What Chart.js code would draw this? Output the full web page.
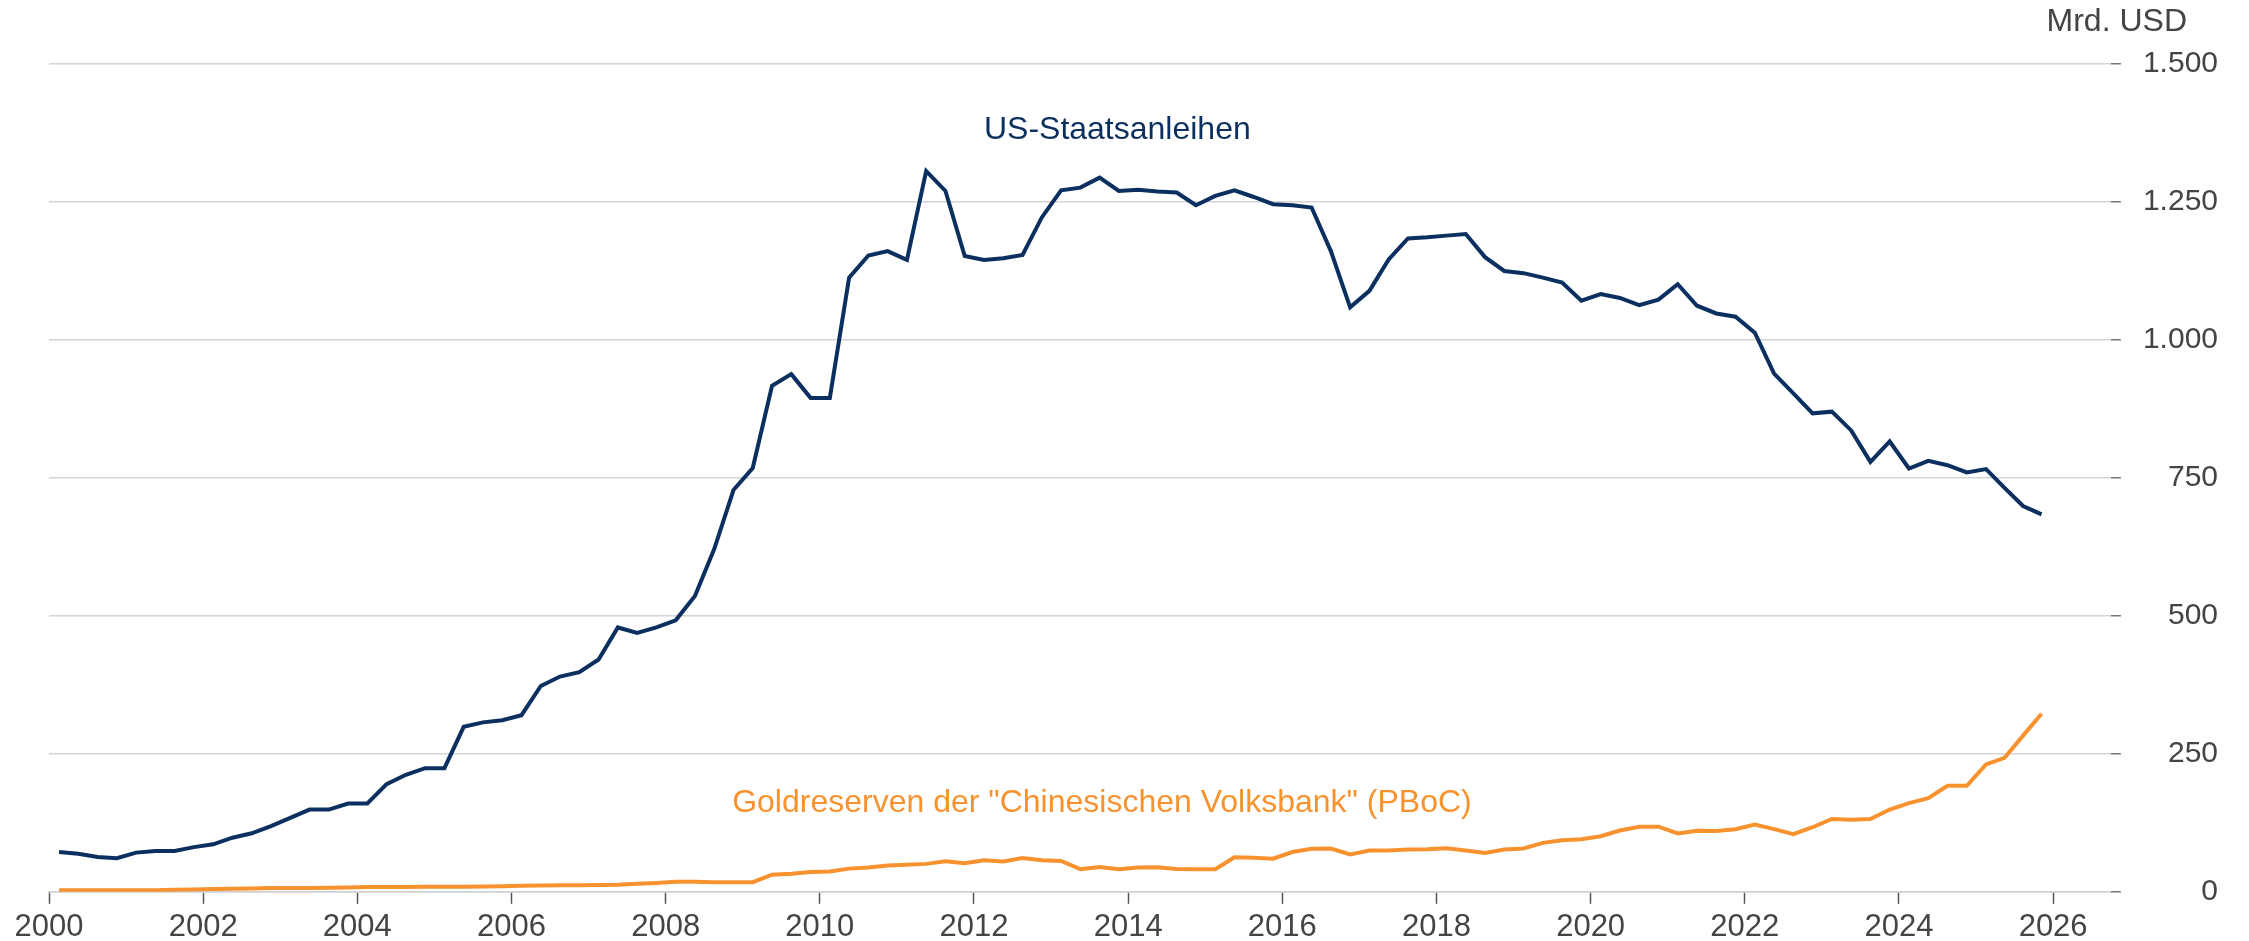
<!DOCTYPE html>
<html lang="de">
<head>
<meta charset="utf-8">
<title>US-Staatsanleihen vs. Goldreserven PBoC</title>
<script src="https://cdn.jsdelivr.net/npm/chart.js@4.4.1/dist/chart.umd.min.js"></script>
<style>
  html, body { margin: 0; padding: 0; background: #fff; }
  #wrap { width: 2249px; height: 941px; position: relative; }
</style>
</head>
<body>
<div id="wrap"><canvas id="chart"></canvas></div>
<script>
// quarterly observation dates as decimal years
const dates = [
  2000.13, 2000.38, 2000.63, 2000.88, 2001.13, 2001.38, 2001.63, 2001.88,
  2002.13, 2002.38, 2002.63, 2002.88, 2003.13, 2003.38, 2003.63, 2003.88,
  2004.13, 2004.38, 2004.63, 2004.88, 2005.13, 2005.38, 2005.63, 2005.88,
  2006.13, 2006.38, 2006.63, 2006.88, 2007.13, 2007.38, 2007.63, 2007.88,
  2008.13, 2008.38, 2008.63, 2008.88, 2009.13, 2009.38, 2009.63, 2009.88,
  2010.13, 2010.38, 2010.63, 2010.88, 2011.13, 2011.38, 2011.63, 2011.88,
  2012.13, 2012.38, 2012.63, 2012.88, 2013.13, 2013.38, 2013.63, 2013.88,
  2014.13, 2014.38, 2014.63, 2014.88, 2015.13, 2015.38, 2015.63, 2015.88,
  2016.13, 2016.38, 2016.63, 2016.88, 2017.13, 2017.38, 2017.63, 2017.88,
  2018.13, 2018.38, 2018.63, 2018.88, 2019.13, 2019.38, 2019.63, 2019.88,
  2020.13, 2020.38, 2020.63, 2020.88, 2021.13, 2021.38, 2021.63, 2021.88,
  2022.13, 2022.38, 2022.63, 2022.88, 2023.13, 2023.38, 2023.63, 2023.88,
  2024.13, 2024.38, 2024.63, 2024.88, 2025.13, 2025.37, 2025.61, 2025.85
];

// China's holdings of US Treasuries, bn USD
const usTreasuries = [
  72, 69, 63, 61, 71, 74, 74, 81,
  86, 98, 106, 119, 134, 149, 149, 160,
  160, 195, 212, 224, 224, 299, 307, 311,
  320, 373, 390, 398, 421, 479, 469, 479,
  492, 536, 621, 728, 768, 917, 938, 895,
  895, 1113, 1153, 1161, 1145, 1306, 1270, 1152,
  1145, 1148, 1154, 1222, 1271, 1276, 1294, 1270,
  1272, 1269, 1267, 1244, 1261, 1271, 1259, 1246,
  1244, 1240, 1161, 1059, 1089, 1146, 1184, 1186,
  1189, 1192, 1150, 1125, 1121, 1113, 1104, 1071,
  1083, 1076, 1063, 1073, 1101, 1062, 1048, 1042,
  1013, 939, 903, 867, 870, 836, 779, 816,
  767, 781, 773, 760, 766, 732, 699, 684
];

// PBoC gold reserves, bn USD
const pbocGold = [
  3, 3, 3, 3, 3, 3, 3.5, 4,
  5, 5.5, 6, 7, 7, 7, 7.5, 8,
  8.5, 8.5, 8.5, 9, 9, 9, 9.5, 10,
  11, 11.5, 12, 12, 12.5, 13, 14.5, 16,
  18, 18, 17.5, 17.5, 17.5, 31, 32.5, 36,
  37, 42, 44, 47.6, 48.8, 50.6, 55.5, 51.8,
  57, 55, 61, 57, 56, 41, 45, 41,
  44, 44.5, 41.5, 41, 41, 62.7, 61.5, 60,
  72, 77.8, 78.4, 67.6, 74.8, 74.8, 76.6, 77,
  79, 75, 70.5, 76.6, 78.4, 88.7, 93.5, 95.4,
  100.8, 111, 118, 118, 105.7, 110.4, 110, 113.5,
  122, 113.5, 104.4, 117, 132, 130.4, 132, 149,
  160.6, 169.7, 192, 192, 230.7, 242.8, 283, 322.5
];

const seriesNames = ['US-Staatsanleihen', 'Goldreserven der "Chinesischen Volksbank" (PBoC)'];
const unitLabel = 'Mrd. USD';

const NAVY = '#0b2f5f';
const ORANGE = '#f7922f';
const FONT = '"Liberation Sans", Arial, sans-serif';

function fmtDE(v) {
  return String(Math.round(v)).replace(/\B(?=(\d{3})+(?!\d))/g, '.');
}

// series labels + unit text
const textPlugin = {
  id: 'texts',
  afterDraw(chart) {
    const ctx = chart.ctx;
    const xs = chart.scales.x, ys = chart.scales.y;
    ctx.save();
    ctx.textBaseline = 'middle';
    ctx.font = '32px ' + FONT;
    ctx.textAlign = 'center';
    ctx.fillStyle = NAVY;
    ctx.fillText(seriesNames[0], xs.getPixelForValue(2013.86), ys.getPixelForValue(1380));
    ctx.fillStyle = ORANGE;
    ctx.fillText(seriesNames[1], xs.getPixelForValue(2013.66), ys.getPixelForValue(161));
    ctx.font = '32px ' + FONT;
    ctx.textAlign = 'right';
    ctx.fillStyle = '#444';
    ctx.fillText(unitLabel, chart.width - 62, 22);
    ctx.restore();
  }
};

const ctx = document.getElementById('chart').getContext('2d');
new Chart(ctx, {
  type: 'line',
  data: {
    datasets: [
      {
        label: seriesNames[0],
        data: dates.map((d, i) => ({ x: d, y: usTreasuries[i] })),
        borderColor: NAVY,
        borderWidth: 4,
        pointRadius: 0,
        tension: 0,
        fill: false
      },
      {
        label: seriesNames[1],
        data: dates.map((d, i) => ({ x: d, y: pbocGold[i] })),
        borderColor: ORANGE,
        borderWidth: 4,
        pointRadius: 0,
        tension: 0,
        fill: false
      }
    ]
  },
  options: {
    responsive: true,
    maintainAspectRatio: false,
    animation: false,
    layout: { padding: { top: 64, right: 31, left: 49, bottom: -10 } },
    plugins: {
      legend: { display: false },
      tooltip: { enabled: false }
    },
    scales: {
      x: {
        type: 'linear',
        min: 2000,
        max: 2026.75,
        grid: {
          drawOnChartArea: false,
          drawTicks: true,
          tickLength: 12,
          tickColor: '#555',
          tickWidth: 1.5
        },
        border: { display: true, color: '#d0d0d0', width: 1.5 },
        ticks: {
          stepSize: 2,
          includeBounds: false,
          autoSkip: false,
          maxRotation: 0,
          padding: 5,
          color: '#444',
          font: { family: FONT, size: 31 },
          callback: v => String(v)
        },
        afterBuildTicks: s => { s.ticks = s.ticks.filter(t => Number.isInteger(t.value)); }
      },
      y: {
        position: 'right',
        min: 0,
        max: 1500,
        grid: {
          color: '#d4d4d4',
          lineWidth: 1.5,
          tickLength: 10,
          tickColor: '#777'
        },
        border: { display: false },
        ticks: {
          stepSize: 250,
          padding: 11,
          crossAlign: 'far',
          color: '#444',
          font: { family: FONT, size: 30 },
          callback: v => fmtDE(v)
        }
      }
    }
  },
  plugins: [textPlugin]
});
</script>
</body>
</html>
